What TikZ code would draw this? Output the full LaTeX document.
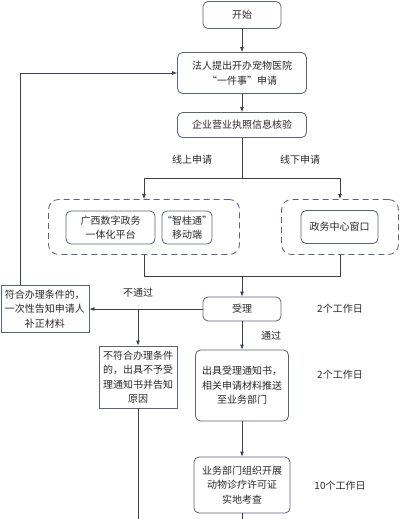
\documentclass[tikz,border=0pt]{standalone}
\usepackage{fontspec}
\newfontfamily\cjk{Noto Sans CJK SC}
\usepackage{tikz}
\usetikzlibrary{arrows.meta}
\definecolor{edge}{RGB}{62, 64, 78}
\definecolor{frame}{RGB}{92, 98, 120}
\definecolor{ink}{RGB}{40, 40, 40}

\begin{document}
\begin{tikzpicture}[x=1pt, y=-1pt, font=\cjk\fontsize{10}{14.5}\selectfont, text=ink,
  stepbox/.style={draw=frame, line width=0.8, rounded corners=5, align=center, inner sep=0},
  notebox/.style={draw=frame, line width=0.8, align=center, inner sep=0},
  groupbox/.style={draw=frame, dash pattern=on 6pt off 4pt, rounded corners=10, line width=0.8, inner sep=0},
  line/.style={draw=edge, line width=0.8},
  flow/.style={line, -{Latex[length=5pt, width=4pt]}}]

  \useasboundingbox (0, 0) rectangle (400, 519);

  % main column
  \node[stepbox, minimum width=78pt, minimum height=27pt] (start) at (242, 15) {开始};
  \node[stepbox, minimum width=129pt, minimum height=41pt] (apply) at (242, 73) {法人提出开办宠物医院\\“一件事”申请};
  \node[stepbox, minimum width=129pt, minimum height=25pt] (check) at (242, 125) {企业营业执照信息核验};

  % channels
  \node[groupbox, minimum width=191pt, minimum height=55pt] (online) at (144, 227) {};
  \node[groupbox, minimum width=117pt, minimum height=55pt] (offline) at (340, 227) {};
  \node[stepbox, minimum width=89pt, minimum height=33pt] (portal) at (110.5, 227.5) {广西数字政务\\一体化平台};
  \node[stepbox, minimum width=48pt, minimum height=33pt] (mobile) at (187, 227.5) {“智桂通”\\移动端};
  \node[stepbox, minimum width=77pt, minimum height=33pt] (window) at (339.5, 227) {政务中心窗口};

  \node[stepbox, minimum width=78pt, minimum height=24pt] (accept) at (242, 309) {受理};
  \node[notebox, minimum width=88pt, minimum height=47pt] (supply) at (45, 309) {符合办理条件的，\\一次性告知申请人\\补正材料};
  \node[notebox, minimum width=78pt, minimum height=62pt] (reject) at (138, 377) {不符合办理条件\\的，出具不予受\\理通知书并告知\\原因};
  \node[stepbox, minimum width=93pt, minimum height=71pt] (notice) at (242, 385.5) {出具受理通知书，\\相关申请材料推送\\至业务部门};
  \node[stepbox, minimum width=96pt, minimum height=56pt] (inspect) at (242, 485) {业务部门组织开展\\动物诊疗许可证\\实地考查};

  % labels
  \node (online-lbl) at (192, 160) {线上申请};
  \node (offline-lbl) at (300, 160) {线下申请};
  \node (fail-lbl) at (138, 293) {不通过};
  \node (pass-lbl) at (271, 336) {通过};
  \node (days1) at (340, 309) {2个工作日};
  \node (days2) at (340, 375) {2个工作日};
  \node (days3) at (340, 486) {10个工作日};

  \coordinate (split) at (242, 178);
  \coordinate (merge) at (242, 276);
  \coordinate (fork) at (138, 309);
  \coordinate (end1) at (138, 519);
  \coordinate (end2) at (242, 519);

  \draw[flow] (start) -- (apply);
  \draw[flow] (apply) -- (check);
  \draw[line] (check) -- (split);
  \draw[flow] (split) -| (online);
  \draw[flow] (split) -| (offline);
  \draw[line] (online) |- (merge);
  \draw[line] (offline) |- (merge);
  \draw[flow] (merge) -- (accept);

  \draw[flow] (accept) -- (supply);
  \draw[flow] (fork) -- (reject);
  \draw[flow] ([xshift=20pt]supply.north west) |- (apply);
  \draw[line] (reject) -- (end1);

  \draw[flow] (accept) -- (notice);
  \draw[flow] (notice) -- (inspect);
  \draw[line] (inspect) -- (end2);

\end{tikzpicture}
\end{document}
